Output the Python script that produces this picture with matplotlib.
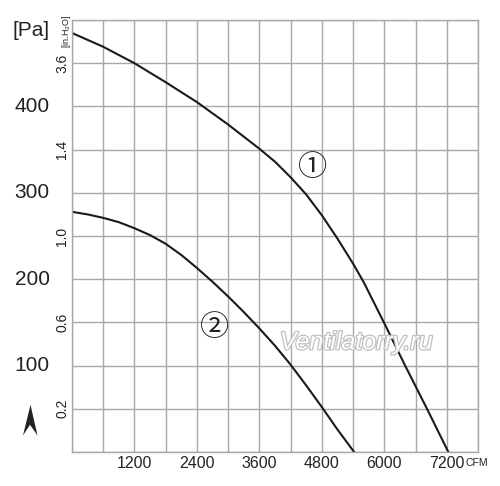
import matplotlib
matplotlib.use("Agg")
import matplotlib.pyplot as plt
import matplotlib.patheffects as pe
from matplotlib.patches import Polygon

# fan curves: airflow [CFM] vs static pressure [Pa]
CURVE_1_CFM = [0, 600, 1200, 1800, 2400, 3000, 3300, 3600, 3900, 4200, 4500, 4800,
               5100, 5400, 5600, 6000, 6400, 6820, 7230]
CURVE_1_PA = [485, 469, 450, 428, 405, 379, 365, 351, 336, 318, 298, 274,
              247, 218, 197, 149, 100, 50, 0]
CURVE_2_CFM = [0, 300, 600, 900, 1200, 1500, 1800, 2100, 2400, 2700, 3000,
               3300, 3600, 3900, 4200, 4500, 4800, 5100, 5420]
CURVE_2_PA = [278, 275, 271, 266, 259, 251, 241, 228, 213, 197, 180,
              162, 143, 123, 101, 77, 52, 26, 0]

X_TICKS = [1200, 2400, 3600, 4800, 6000, 7200]
PA_TICKS = [100, 200, 300, 400]
INH2O_POS = [50, 150, 250, 350, 450]
INH2O_LABELS = ["0.2", "0.6", "1.0", "1.4", "3.6"]

X_MAX = 7800
Y_MAX = 500
GRID_COLOR = "#a8a8a8"
TEXT_COLOR = "#222222"
FONT = ["Liberation Sans", "DejaVu Sans"]


def main() -> None:
    fig = plt.figure(figsize=(5.0, 4.86), dpi=100)
    ax = fig.add_axes([0.144, 0.07, 0.812, 0.8888])

    ax.set_xlim(0, X_MAX)
    ax.set_ylim(0, Y_MAX)
    ax.set_xticks(range(0, X_MAX + 1, 600))
    ax.set_yticks(range(0, Y_MAX + 1, 50))
    ax.set_xticklabels([])
    ax.set_yticklabels([])
    ax.tick_params(length=0)
    ax.grid(True, color=GRID_COLOR, linewidth=1.0)
    for spine in ax.spines.values():
        spine.set_color(GRID_COLOR)
        spine.set_linewidth(1.0)

    ax.plot(CURVE_1_CFM, CURVE_1_PA, color="#1a1a1a", linewidth=1.5)
    ax.plot(CURVE_2_CFM, CURVE_2_PA, color="#1a1a1a", linewidth=1.5)

    # x tick labels
    for value in X_TICKS:
        ax.text(value, -5, str(value), ha="center", va="top",
                fontsize=11.5, family=FONT, color=TEXT_COLOR, clip_on=False)
    ax.text(7560, -7, "CFM", ha="left", va="top", fontsize=7.5,
            family=FONT, color=TEXT_COLOR, clip_on=False)

    # pressure labels in Pa, far left
    ytrans = ax.get_yaxis_transform()
    for value in PA_TICKS:
        ax.text(-0.0985, value, str(value), transform=ytrans, ha="center", va="center",
                fontsize=15, family=FONT, color=TEXT_COLOR, clip_on=False)
    ax.text(-0.1, 488, "[Pa]", transform=ytrans, ha="center", va="center",
            fontsize=15, family=FONT, color=TEXT_COLOR, clip_on=False)

    # inch of water labels, rotated
    for pos, label in zip(INH2O_POS, INH2O_LABELS):
        ax.text(-0.024, pos, label, transform=ytrans, ha="center", va="center",
                rotation=90, fontsize=10, family=FONT, color=TEXT_COLOR, clip_on=False)
    ax.text(-0.0135, 487, "[in.H$_2$O]", transform=ytrans, ha="center", va="center",
            rotation=90, fontsize=6.5, family=FONT, color=TEXT_COLOR, clip_on=False)

    # curve numbers
    circled = ["Noto Sans CJK JP", "DejaVu Sans"]
    ax.text(4620, 329, "\u2460", ha="center", va="center", fontsize=21,
            family=circled, color=TEXT_COLOR)
    ax.text(2730, 144, "\u2461", ha="center", va="center", fontsize=21,
            family=circled, color=TEXT_COLOR)

    # watermark
    ax.text(5460, 127, "Ventilatorry.ru", ha="center", va="center", fontsize=18,
            family=FONT, style="italic", color="white",
            path_effects=[pe.withStroke(linewidth=1.8, foreground="#c0c0c0")])

    # arrow head mark at lower left
    arrow = Polygon([(0.061, 0.167), (0.046, 0.104), (0.060, 0.126), (0.075, 0.104)],
                    closed=True, transform=fig.transFigure, facecolor=TEXT_COLOR,
                    edgecolor="none")
    fig.patches.append(arrow)

    fig.savefig("out.png", dpi=100)


if __name__ == "__main__":
    main()
